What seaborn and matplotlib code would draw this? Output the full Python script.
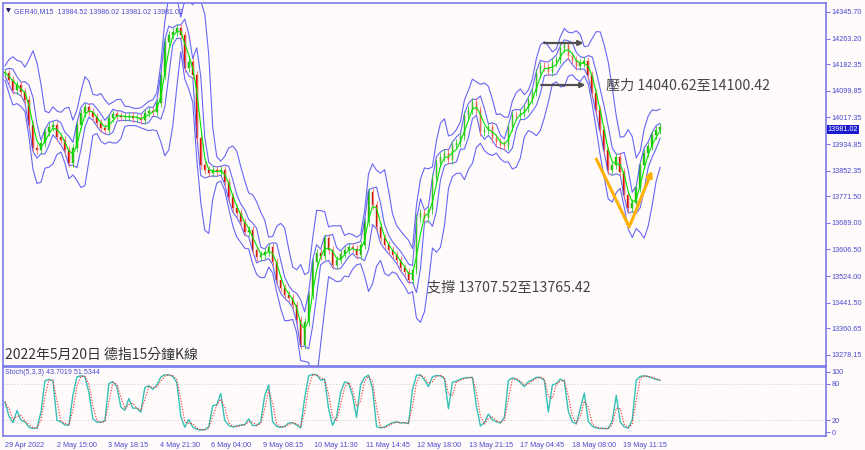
import numpy as np
import pandas as pd
import matplotlib
matplotlib.use("Agg")
import matplotlib.pyplot as plt
import seaborn as sns

# closes, one every ~8 bars (15 min bars)
close = [
    14155.9, 14134.1, 14103.0, 14118.5, 14096.7, 14071.8, 13994.0, 13922.4, 13916.2, 13938.0,
    13972.2, 13987.8, 13994.0, 13956.7, 13947.3, 13916.2, 13875.7, 13922.4, 13994.0, 14031.4,
    14050.0, 14034.5, 14018.9, 14000.2, 13984.7, 13978.5, 14015.8, 14028.2, 14022.0, 14018.9,
    14018.9, 14022.0, 14015.8, 14015.8, 14009.6, 14031.4, 14037.6, 14034.5, 14062.5, 14149.6,
    14252.3, 14274.1, 14283.5, 14295.9, 14274.1, 14171.4, 14190.1, 14149.6, 13953.6, 13869.5,
    13854.0, 13844.6, 13854.0, 13847.7, 13854.0, 13816.6, 13769.9, 13735.7, 13720.1, 13692.1,
    13661.0, 13667.2, 13605.0, 13583.2, 13589.4, 13598.8, 13614.3, 13567.6, 13511.6, 13486.7,
    13465.0, 13455.6, 13433.8, 13387.1, 13309.3, 13380.9, 13465.0, 13567.6, 13595.6, 13586.3,
    13642.3, 13605.0, 13558.3, 13573.9, 13592.5, 13605.0, 13614.3, 13608.1, 13589.4, 13620.5,
    13692.1, 13785.5, 13745.0, 13676.6, 13642.3, 13620.5, 13605.0, 13589.4, 13573.9, 13549.0,
    13536.5, 13511.6, 13542.7, 13704.6, 13720.1, 13704.6, 13729.5, 13829.1, 13875.7, 13894.4,
    13906.9, 13885.1, 13931.8, 13938.0, 13959.8, 14025.1, 14040.7, 14065.6, 14040.7, 13972.2,
    13978.5, 13987.8, 13953.6, 13941.1, 13931.8, 13928.7, 13987.8, 14025.1, 14022.0, 14031.4,
    14046.9, 14071.8, 14096.7, 14155.9, 14177.6, 14174.5, 14159.0, 14190.1, 14196.3, 14233.7,
    14243.0, 14208.8, 14196.3, 14177.6, 14187.0, 14193.2, 14149.6, 14093.6, 14040.7, 13978.5,
    13916.2, 13854.0, 13869.5, 13894.4, 13847.7, 13776.2, 13735.7, 13751.3, 13797.9, 13869.5,
    13906.9, 13928.7, 13962.9, 13978.5, 13987.8,
]

price_ticks = [14345.70, 14263.20, 14182.35, 14099.85, 14017.35, 13934.85, 13852.35,
               13771.50, 13689.00, 13606.50, 13524.00, 13441.50, 13360.65, 13278.15]
time_labels = ["29 Apr 2022", "2 May 15:00", "3 May 18:15", "4 May 21:30", "6 May 04:00",
               "9 May 08:15", "10 May 11:30", "11 May 14:45", "12 May 18:00", "13 May 21:15",
               "17 May 04:45", "18 May 08:00", "19 May 11:15"]
last_price = 13981.02
header = "GER40,M15  13984.52 13986.02 13981.02 13981.02"
stoch_title = "Stoch(5,3,3) 43.7019 51.5344"
date_txt = "2022年5月20日 德指15分鐘K線"
resist_txt = "壓力 14040.62至14100.42"
support_txt = "支撐 13707.52至13765.42"

df = pd.DataFrame({"close": close})
df["idx"] = np.arange(len(df))
df["open"] = df["close"].shift(1).fillna(df["close"])
wick = 12
df["high"] = df[["open", "close"]].max(axis=1) + wick
df["low"] = df[["open", "close"]].min(axis=1) - wick
df["ma"] = df["close"].rolling(3, min_periods=1).mean()
mid = df["close"].rolling(5, min_periods=1).mean()
sd = df["close"].rolling(5, min_periods=1).std().fillna(0)
df["up2"] = mid + 2 * sd + 22
df["dn2"] = mid - 2 * sd - 22
mid3 = df["close"].rolling(3, min_periods=1).mean()
sd3 = df["close"].rolling(3, min_periods=1).std().fillna(0)
df["up1"] = mid3 + sd3 + 10
df["dn1"] = mid3 - sd3 - 10

# fast stochastic on the coarse bars
hh = df["high"].rolling(3, min_periods=1).max()
ll = df["low"].rolling(3, min_periods=1).min()
df["k"] = 100 * (df["close"] - ll) / (hh - ll)
df["d"] = df["k"].rolling(2, min_periods=1).mean()

sns.set_style("white")
plt.rcParams["font.family"] = ["Liberation Sans", "DejaVu Sans"]
bg = "#fffbfb"
frame = "#7a7ae6"
lab = "#4a4ad0"

fig = plt.figure(figsize=(8.65, 4.5), dpi=100, facecolor=bg)
ax = fig.add_axes([3 / 865, 84 / 450, 823 / 865, 363 / 450], facecolor=bg)
ax2 = fig.add_axes([3 / 865, 14 / 450, 823 / 865, 69 / 450], facecolor=bg)

xmax = 205.5
for col in ["up2", "dn2", "up1", "dn1"]:
    sns.lineplot(data=df, x="idx", y=col, ax=ax, color="#4c4cf5", lw=0.8, alpha=0.85)

bull = df[df["close"] >= df["open"]]
bear = df[df["close"] < df["open"]]
ax.vlines(bull["idx"], bull["low"], bull["high"], color="#33cc33", lw=0.6)
ax.vlines(bear["idx"], bear["low"], bear["high"], color="#ff6a6a", lw=0.6)
ax.bar(bull["idx"], (bull["close"] - bull["open"]).clip(lower=3), bottom=bull["open"],
       width=0.4, color="#00e000", edgecolor="#557700", lw=0.3)
ax.bar(bear["idx"], (bear["open"] - bear["close"]).clip(lower=3), bottom=bear["close"],
       width=0.4, color="#ee0000", edgecolor="#884400", lw=0.3)
sns.lineplot(data=df, x="idx", y="ma", ax=ax, color="#00e600", lw=0.8)

ax.set_xlim(-0.5, xmax)
ax.set_ylim(13243.9, 14373.7)
ax.set_xlabel("")
ax.set_ylabel("")
ax.yaxis.tick_right()
ax.set_yticks(price_ticks)
ax.set_yticklabels([f"{p:.2f}" for p in price_ticks])
ax.tick_params(axis="y", direction="out", length=3, width=0.8, colors=frame, labelcolor=lab,
               labelsize=5.2, pad=1)
ax.set_xticks([])
for s in ax.spines.values():
    s.set_color(frame)
    s.set_linewidth(1.2)

ax.text(xmax + 0.4, last_price, f"{last_price:.2f}", color="white",
        fontsize=5.2, va="center", ha="left",
        bbox=dict(boxstyle="square,pad=0.15", fc="#1a1ad0", ec="none"))

ax.text(0.004, 0.985, "▼", transform=ax.transAxes, fontsize=4.5, color="#101060",
        va="top", ha="left", family="DejaVu Sans")
ax.text(0.013, 0.986, header, transform=ax.transAxes, fontsize=5.1, color=lab,
        va="top", ha="left")

cjk = ["Noto Sans CJK TC", "DejaVu Sans"]
ax.text(0.0025, 0.03, date_txt, transform=ax.transAxes, fontsize=10, color="#333333",
        va="center", ha="left", family=cjk)
ax.text(150.5, 14115.4, resist_txt, fontsize=10.2, color="#444444", va="center",
        ha="left", family=cjk)
ax.text(105.75, 13489.8, support_txt, fontsize=10.2, color="#444444", va="center",
        ha="left", family=cjk)

arrow = dict(arrowstyle="-|>", color="#505050", lw=1.6, mutation_scale=7)
ax.annotate("", xy=(145.5, 14249.2), xytext=(134.25, 14249.2), arrowprops=arrow)
ax.annotate("", xy=(146.0, 14118.5), xytext=(133.5, 14118.5), arrowprops=arrow)
ax.plot([148, 156.25], [13888.2, 13676.6], color="#ffb000", lw=2.2, solid_capstyle="round")
ax.annotate("", xy=(162.25, 13860.2), xytext=(156.25, 13676.6),
            arrowprops=dict(arrowstyle="-|>", color="#ffb000", lw=2.2, mutation_scale=8))

# stochastic
ax2.axhline(80, color="#c8c8c8", lw=0.7, ls=(0, (1, 2)))
ax2.axhline(20, color="#c8c8c8", lw=0.7, ls=(0, (1, 2)))
sns.lineplot(data=df, x="idx", y="k", ax=ax2, color="#35c0b5", lw=1.0)
sns.lineplot(data=df, x="idx", y="d", ax=ax2, color="#ff2020", lw=0.8, ls=(0, (1, 1.5)))
ax2.set_xlim(-0.5, xmax)
ax2.set_ylim(-6.5, 108)
ax2.set_xlabel("")
ax2.set_ylabel("")
ax2.yaxis.tick_right()
ax2.set_yticks([0, 20, 80, 100])
ax2.tick_params(axis="y", direction="out", length=3, width=0.8, colors=frame, labelcolor=lab,
                labelsize=5.2, pad=1)
tick_step = 12.9
ax2.set_xticks(np.arange(len(time_labels)) * tick_step)
ax2.set_xticklabels(time_labels, ha="left")
ax2.tick_params(axis="x", direction="out", length=3, width=0.8, colors=frame, labelcolor=lab,
                labelsize=5.2, pad=1)
for s in ax2.spines.values():
    s.set_color(frame)
    s.set_linewidth(1.2)
ax2.text(0.0025, 0.97, stoch_title, transform=ax2.transAxes, fontsize=5.1, color=lab,
         va="top", ha="left")

fig.savefig("out.png", dpi=100, facecolor=bg)
